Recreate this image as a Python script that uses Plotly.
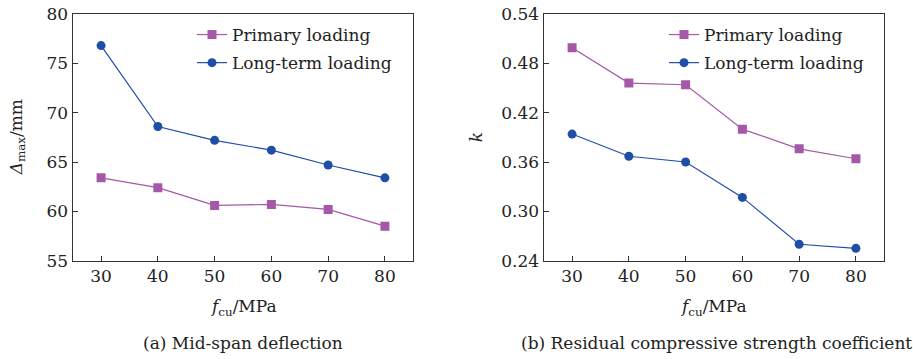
import plotly.graph_objects as go

# Concrete cube strength grades (MPa)
fcu = [30, 40, 50, 60, 70, 80]

# (a) Mid-span deflection, mm
deflection_primary = [63.4, 62.4, 60.6, 60.7, 60.2, 58.5]
deflection_longterm = [76.8, 68.6, 67.2, 66.2, 64.7, 63.4]

# (b) Residual compressive strength coefficient k
k_primary = [0.499, 0.456, 0.454, 0.400, 0.376, 0.364]
k_longterm = [0.394, 0.367, 0.360, 0.317, 0.260, 0.255]

x_ticks = [30, 40, 50, 60, 70, 80]
y_ticks_a = [55, 60, 65, 70, 75, 80]
y_ticks_b = [0.24, 0.30, 0.36, 0.42, 0.48, 0.54]

PURPLE = "#a557a8"
BLUE = "#1f4ea6"
FONT = "DejaVu Serif"
FS = 17
TXT = "#222222"
W, H = 913, 359

fig = go.Figure()

def add_series(x, y, name, color, symbol, xa, ya, legend):
    fig.add_trace(go.Scatter(
        x=x, y=y, name=name, mode="lines+markers",
        line=dict(color=color, width=1.2),
        marker=dict(symbol=symbol, size=9, color=color),
        xaxis=xa, yaxis=ya, legend=legend, legendgroup=legend + name,
    ))

add_series(fcu, deflection_primary, "Primary loading", PURPLE, "square", "x", "y", "legend")
add_series(fcu, deflection_longterm, "Long-term loading", BLUE, "circle", "x", "y", "legend")
add_series(fcu, k_primary, "Primary loading", PURPLE, "square", "x2", "y2", "legend2")
add_series(fcu, k_longterm, "Long-term loading", BLUE, "circle", "x2", "y2", "legend2")

# plot-area placement (pixels converted to paper fractions)
dom_a = [72.7 / W, 413.3 / W]
dom_b = [543.7 / W, 884.3 / W]
dom_y = [1 - 260.7 / H, 1 - 14 / H]

axis_common = dict(
    showline=True, linecolor="#333333", linewidth=1.3, mirror=True,
    ticks="inside", ticklen=5, tickwidth=1, tickcolor="#333333",
    showgrid=False, zeroline=False, automargin=False,
    tickfont=dict(family=FONT, size=FS, color=TXT),
)

legend_common = dict(
    xanchor="left", yanchor="top", bgcolor="rgba(0,0,0,0)",
    font=dict(family=FONT, size=FS, color=TXT),
    traceorder="grouped", tracegroupgap=3, itemwidth=30,
)

fig.update_layout(
    width=W, height=H, autosize=False,
    margin=dict(l=0, r=0, t=0, b=0),
    paper_bgcolor="white", plot_bgcolor="white",
    font=dict(family=FONT, size=FS, color=TXT),
    xaxis=dict(domain=dom_a, range=[25, 85], tickvals=x_ticks, anchor="y", **axis_common),
    yaxis=dict(domain=dom_y, range=[55, 80], tickvals=y_ticks_a, anchor="x", **axis_common),
    xaxis2=dict(domain=dom_b, range=[25, 85], tickvals=x_ticks, anchor="y2", **axis_common),
    yaxis2=dict(domain=dom_y, range=[0.24, 0.54], tickvals=y_ticks_b,
                tickformat=".2f", anchor="x2", **axis_common),
    legend=dict(x=192 / W, y=1 - 17 / H, **legend_common),
    legend2=dict(x=664 / W, y=1 - 17 / H, **legend_common),
    showlegend=True,
)

annotations = [
    dict(text="<i>Δ</i><sub>max</sub>/mm", x=17 / W, y=(dom_y[0] + dom_y[1]) / 2,
         textangle=-90),
    dict(text="<i>k</i>", x=476 / W, y=(dom_y[0] + dom_y[1]) / 2, textangle=-90),
    dict(text="<i>f</i><sub>cu</sub>/MPa", x=(dom_a[0] + dom_a[1]) / 2, y=1 - 307 / H),
    dict(text="<i>f</i><sub>cu</sub>/MPa", x=(dom_b[0] + dom_b[1]) / 2, y=1 - 307 / H),
    dict(text="(a) Mid-span deflection", x=(dom_a[0] + dom_a[1]) / 2, y=1 - 343 / H),
    dict(text="(b) Residual compressive strength coefficient", x=716 / W, y=1 - 343 / H),
]
for a in annotations:
    fig.add_annotation(xref="paper", yref="paper", showarrow=False,
                       xanchor="center", yanchor="middle",
                       font=dict(family=FONT, size=FS, color=TXT), **a)

# the page body gets no default margin so the figure sits flush at the origin
fig.write_html(
    "out.html",
    config={"responsive": False, "displayModeBar": False},
    post_script="document.body.style.margin='0';document.body.style.overflow='hidden';",
)
